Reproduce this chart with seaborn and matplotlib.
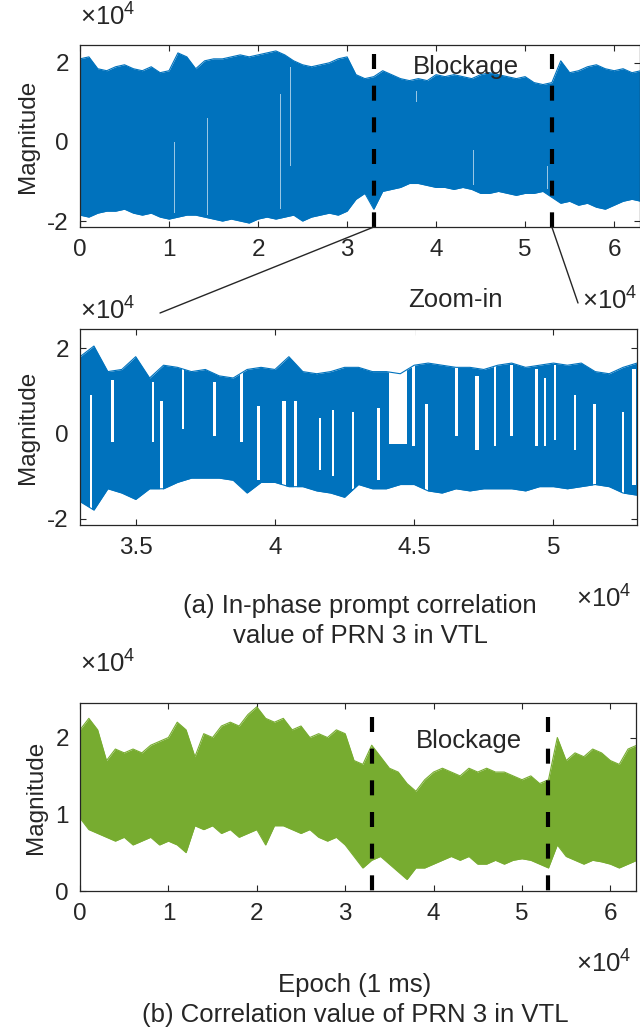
import numpy as np
import pandas as pd
import matplotlib.pyplot as plt
import seaborn as sns
from matplotlib.patches import ConnectionPatch

sns.set_style("ticks")
plt.rcParams['font.family'] = ['Liberation Sans', 'DejaVu Sans']
plt.rcParams['mathtext.fontset'] = 'custom'
plt.rcParams['mathtext.rm'] = 'Liberation Sans'

# values are in units of 1e4, epochs in ms
epoch_full = list(range(0, 64000, 1000))

# (a) in-phase prompt, upper / lower edge of the trace
inphase_upper = [2.10, 2.15, 1.85, 1.80, 1.90, 1.95, 1.85, 1.80, 1.90, 1.75,
                 1.80, 2.25, 2.15, 1.85, 2.05, 2.10, 2.10, 2.15, 2.20, 2.15,
                 2.20, 2.25, 2.30, 2.20, 2.05, 1.95, 1.90, 1.95, 2.00, 2.10,
                 2.15, 1.70, 1.60, 1.65, 1.80, 1.70, 1.60, 1.55, 1.60, 1.55,
                 1.70, 1.65, 1.70, 1.65, 1.60, 1.70, 1.75, 1.70, 1.65, 1.60,
                 1.65, 1.50, 1.45, 1.50, 2.05, 1.75, 1.80, 1.90, 1.95, 1.85,
                 1.80, 1.85, 1.75, 1.80]
inphase_lower = [-1.85, -1.90, -1.80, -1.75, -1.75, -1.70, -1.80, -1.85, -1.80, -1.90,
                 -1.95, -1.90, -1.85, -1.85, -1.90, -1.95, -2.00, -1.95, -2.00, -2.05,
                 -1.95, -1.90, -1.95, -1.90, -1.85, -2.00, -1.90, -1.85, -1.80, -1.85,
                 -1.75, -1.45, -1.30, -1.70, -1.25, -1.20, -1.15, -1.05, -1.05, -1.10,
                 -1.15, -1.15, -1.20, -1.15, -1.20, -1.30, -1.30, -1.25, -1.30, -1.35,
                 -1.30, -1.30, -1.25, -1.40, -1.55, -1.50, -1.60, -1.55, -1.65, -1.70,
                 -1.60, -1.50, -1.45, -1.50]

# thin light stripes in the full trace (no crossing there)
inphase_gap_epoch = [10600, 14300, 14600, 22500, 23600, 37800, 40200, 44200, 44700, 52500]
inphase_gap_hi = [0.0, 0.6, 1.9, 1.2, 1.9, 1.3, 0.5, -0.2, 1.2, -0.6]
inphase_gap_lo = [-1.8, -1.85, -0.5, -1.7, -0.6, 1.0, -0.95, -1.1, 0.55, -1.2]

# zoom-in on 33000..53000
epoch_zoom = list(range(33000, 53500, 500))
zoom_upper = [1.80, 2.05, 1.45, 1.50, 1.80, 1.30, 1.60, 1.55, 1.45, 1.50,
              1.35, 1.30, 1.50, 1.55, 1.50, 1.80, 1.45, 1.40, 1.45, 1.55,
              1.55, 1.45, 1.45, 1.40, 1.60, 1.65, 1.60, 1.55, 1.55, 1.50,
              1.60, 1.65, 1.55, 1.60, 1.65, 1.60, 1.65, 1.45, 1.40, 1.55,
              1.65]
zoom_lower = [-1.60, -1.80, -1.30, -1.40, -1.55, -1.30, -1.30, -1.15, -1.05, -1.05,
              -1.05, -1.10, -1.40, -1.15, -1.15, -1.25, -1.25, -1.35, -1.40, -1.50,
              -1.20, -1.30, -1.30, -1.20, -1.20, -1.35, -1.40, -1.30, -1.35, -1.30,
              -1.30, -1.30, -1.35, -1.25, -1.25, -1.30, -1.25, -1.20, -1.25, -1.40,
              -1.45]

# stretches where the prompt stays on one sign (white slits)
zoom_gap_start = [33350, 34130, 35570, 35870, 36650, 37790, 38750, 39350, 40270, 40670,
                  41570, 42050, 42750, 43650, 44100, 44920, 45390, 46470, 47190, 47850,
                  48450, 49350, 49650, 50010, 50730, 51430, 52450, 52830]
zoom_gap_end = [33430, 34220, 35660, 35990, 36750, 37870, 38870, 39470, 40390, 40790,
                41640, 42130, 42830, 43770, 44750, 45030, 45490, 46570, 47310, 47940,
                48540, 49450, 49740, 50100, 50820, 51510, 52550, 52950]
zoom_gap_hi = [0.9, 1.25, 1.2, 0.75, 2.5, 1.2, 2.5, 0.65, 0.75, 0.75,
               0.35, 0.55, 0.5, 0.6, 2.5, 2.5, 0.7, 2.5, 1.35, 2.5,
               1.6, 1.5, 1.3, 1.6, 0.9, 0.7, 0.5, 1.5]
zoom_gap_lo = [-1.9, -0.2, -0.2, -1.4, 0.1, -0.05, -0.2, -1.1, -1.4, -1.4,
               -0.85, -1.0, -1.3, -1.1, -0.25, -0.3, -1.5, -0.05, -0.4, -0.3,
               -0.05, -0.3, -0.3, -0.15, -0.4, -1.5, -1.5, -1.2]

# (b) correlation magnitude
corr_upper = [2.10, 2.25, 2.10, 1.70, 1.85, 1.80, 1.85, 1.80, 1.90, 1.95,
              2.00, 2.20, 2.10, 1.75, 2.05, 2.00, 2.15, 2.20, 2.15, 2.30,
              2.40, 2.25, 2.20, 2.25, 2.10, 2.15, 2.00, 2.05, 2.00, 2.10,
              2.05, 1.70, 1.65, 1.90, 1.75, 1.60, 1.55, 1.40, 1.30, 1.45,
              1.55, 1.60, 1.55, 1.50, 1.60, 1.55, 1.60, 1.55, 1.55, 1.50,
              1.45, 1.50, 1.40, 1.45, 2.00, 1.70, 1.80, 1.75, 1.85, 1.80,
              1.70, 1.65, 1.85, 1.90]
corr_lower = [0.95, 0.80, 0.75, 0.70, 0.65, 0.70, 0.60, 0.65, 0.70, 0.60,
              0.65, 0.60, 0.50, 0.85, 0.80, 0.85, 0.75, 0.80, 0.70, 0.75,
              0.80, 0.60, 0.85, 0.85, 0.80, 0.75, 0.80, 0.70, 0.65, 0.70,
              0.60, 0.45, 0.30, 0.40, 0.45, 0.35, 0.25, 0.15, 0.30, 0.30,
              0.35, 0.40, 0.45, 0.40, 0.45, 0.35, 0.35, 0.40, 0.35, 0.40,
              0.42, 0.40, 0.35, 0.30, 0.60, 0.45, 0.40, 0.35, 0.40, 0.38,
              0.35, 0.30, 0.35, 0.40]

blockage = [33000, 53000]

BLUE = '#0072BD'
GREEN = '#77AC30'
TXT = '#262626'
SC = 1e4

full = pd.DataFrame({'epoch': epoch_full,
                     'hi': np.array(inphase_upper) * SC,
                     'lo': np.array(inphase_lower) * SC,
                     'chi': np.array(corr_upper) * SC,
                     'clo': np.array(corr_lower) * SC})
zoom = pd.DataFrame({'epoch': epoch_zoom,
                     'hi': np.array(zoom_upper) * SC,
                     'lo': np.array(zoom_lower) * SC})

fig = plt.figure(figsize=(6.4, 10.3), dpi=100)
W, H = 640.0, 1030.0


def px_axes(l, t, r, b):
    return fig.add_axes([l / W, 1 - b / H, (r - l) / W, (b - t) / H])


def ftext(x, y, s, size=18.5, ha='center'):
    fig.text(x / W, 1 - y / H, s, fontsize=size, ha=ha, va='center', color=TXT)


def style(ax):
    ax.tick_params(direction='in', top=True, right=True, length=4, width=0.8,
                   colors=TXT, labelsize=17.5)
    ax.tick_params(axis='x', pad=9)
    ax.tick_params(axis='y', pad=8)
    for s in ax.spines.values():
        s.set_linewidth(0.9)
        s.set_color(TXT)
    ax.set_xlabel('')
    ax.set_ylabel('Magnitude', fontsize=17.5, color=TXT, labelpad=6)


def band(ax, df, hi, lo, color):
    ax.fill_between(df['epoch'], df[lo], df[hi], color=color, lw=0)
    sns.lineplot(data=df, x='epoch', y=hi, ax=ax, color=color, lw=0.8)
    sns.lineplot(data=df, x='epoch', y=lo, ax=ax, color=color, lw=0.8)


def dashed(ax, top, bottom):
    for b in blockage:
        ax.plot([b, b], [top, bottom], color='k', lw=3.0,
                dashes=(3.6, 4.0), solid_capstyle='butt')


# top: full in-phase prompt
ax1 = px_axes(80, 45, 640, 227)
band(ax1, full, 'hi', 'lo', BLUE)
for e, h, l in zip(inphase_gap_epoch, inphase_gap_hi, inphase_gap_lo):
    ax1.fill_between([e - 45, e + 45], l * SC, h * SC, color='white', alpha=0.6, lw=0)
dashed(ax1, 2.22 * SC, -2.15 * SC)
ax1.set_xlim(0, 62900)
ax1.set_ylim(-2.15 * SC, 2.45 * SC)
ax1.set_xticks([i * SC for i in range(7)], [str(i) for i in range(7)])
ax1.set_yticks([-2 * SC, 0, 2 * SC], ['-2', '0', '2'])
style(ax1)
ax1.text(43300, 1.9 * SC, 'Blockage', fontsize=18.5, ha='center', va='center', color=TXT)

# middle: zoom-in
ax2 = px_axes(80, 329, 637, 525)
band(ax2, zoom, 'hi', 'lo', BLUE)
for s, e, h, l in zip(zoom_gap_start, zoom_gap_end, zoom_gap_hi, zoom_gap_lo):
    ax2.fill_between([s, e], l * SC, h * SC, color='white', lw=0)
ax2.set_xlim(33000, 53000)
ax2.set_ylim(-2.15 * SC, 2.45 * SC)
ax2.set_xticks([35000, 40000, 45000, 50000], ['3.5', '4', '4.5', '5'])
ax2.set_yticks([-2 * SC, 0, 2 * SC], ['-2', '0', '2'])
style(ax2)

# bottom: correlation magnitude
ax3 = px_axes(80, 703, 636, 891)
band(ax3, full, 'chi', 'clo', GREEN)
dashed(ax3, 2.27 * SC, 0)
ax3.set_xlim(0, 62900)
ax3.set_ylim(0, 2.45 * SC)
ax3.set_xticks([i * SC for i in range(7)], [str(i) for i in range(7)])
ax3.set_yticks([0, SC, 2 * SC], ['0', '1', '2'])
style(ax3)
ax3.text(44000, 1.95 * SC, 'Blockage', fontsize=18.5, ha='center', va='center', color=TXT)

# zoom connectors
for b, (fx, fy) in zip(blockage, [(160, 313), (578, 303)]):
    con = ConnectionPatch(xyA=(b, -2.15 * SC), coordsA=ax1.transData,
                          xyB=(fx / W, 1 - fy / H), coordsB=fig.transFigure,
                          color=TXT, lw=1.0)
    fig.add_artist(con)

# exponent labels and captions
ex = r'$\times10^{4}$'
ftext(80, 16, ex, 18.5, 'left')
ftext(582, 300, ex, 18.5, 'left')
ftext(80, 310, ex, 18.5, 'left')
ftext(576, 598, ex, 18.5, 'left')
ftext(80, 663, ex, 18.5, 'left')
ftext(576, 963, ex, 18.5, 'left')
ftext(455, 300, 'Zoom-in')
ftext(360, 606, '(a) In-phase prompt correlation')
ftext(360, 636, 'value of PRN 3 in VTL')
ftext(355, 985, 'Epoch (1 ms)')
ftext(355, 1015, '(b) Correlation value of PRN 3 in VTL')

fig.savefig('out.png', dpi=100)
